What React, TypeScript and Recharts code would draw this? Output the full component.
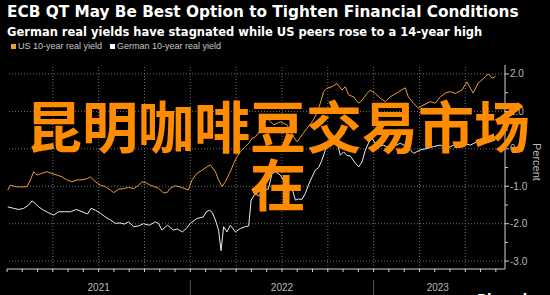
import { LineChart, Line, XAxis, YAxis, ReferenceLine } from "recharts";

// months since Jan 2021
const usMonth = [
  0.05, 0.22, 0.55, 0.88, 1.32, 1.53, 1.75, 1.97, 2.3, 2.62,
  2.95, 3.28, 3.61, 3.93, 4.26, 4.59, 4.91, 5.28, 5.46, 5.79,
  6.11, 6.44, 6.77, 6.98, 7.31, 7.64, 7.96, 8.29, 8.62, 8.84,
  9.12, 9.38, 9.91, 10.24, 10.5, 10.69, 11.02, 11.35, 11.87, 12.11,
  12.44, 12.77, 13.1, 13.31, 13.64, 13.85, 14.08, 14.29, 14.62, 14.84,
  15.06, 15.27, 15.6, 15.82, 16.04, 16.26, 16.59, 17.02, 17.45, 17.89,
  18.33, 18.76, 18.99, 19.31, 19.64, 19.97, 20.29, 20.51, 20.73, 20.95,
  21.28, 21.6, 21.93, 22.15, 22.36, 22.69, 23.02, 23.24, 23.57, 23.78,
  24.11, 24.44, 24.76, 25.09, 25.62, 26.07, 26.27, 26.6, 26.92, 27.25,
  27.71, 28.04, 28.36, 28.69, 29.02, 29.35, 29.78, 30.11, 30.33, 30.52,
  30.85, 31.09, 31.31, 31.51, 31.75, 31.97,
];
const usYield = [
  -1.1, -0.97, -1.01, -1.02, -1.01, -0.83, -0.61, -0.7, -0.65, -0.61,
  -0.66, -0.7, -0.75, -0.83, -0.88, -0.83, -0.83, -0.79, -0.75, -0.88,
  -0.97, -1.01, -1.1, -1.17, -1.08, -1.06, -1.03, -1.06, -0.97, -0.88,
  -0.91, -0.97, -1.05, -1.18, -1.16, -1.05, -0.99, -1.02, -1.1, -0.83,
  -0.65, -0.57, -0.48, -0.43, -0.61, -0.83, -1.01, -0.88, -0.61, -0.39,
  -0.21, -0.08, 0.06, 0.15, 0.28, 0.32, 0.5, 0.82, 0.64, 0.72,
  0.64, 0.32, 0.19, 0.37, 0.55, 0.72, 0.95, 1.22, 1.53, 1.62,
  1.66, 1.75, 1.57, 1.66, 1.44, 1.39, 1.22, 1.3, 1.48, 1.57,
  1.48, 1.35, 1.26, 1.39, 1.52, 1.63, 1.39, 1.22, 1.09, 1.17,
  1.26, 1.22, 1.39, 1.49, 1.53, 1.48, 1.57, 1.79, 1.62, 1.49,
  1.76, 1.84, 1.93, 2.0, 1.89, 1.93,
];
const deMonth = [
  0.05, 0.44, 0.77, 1.09, 1.42, 1.64, 1.86, 2.07, 2.4, 2.73,
  3.06, 3.38, 3.82, 4.15, 4.54, 4.91, 5.28, 5.5, 5.79, 6.11,
  6.44, 6.77, 7.09, 7.42, 7.68, 7.96, 8.29, 8.62, 8.93, 9.32,
  9.71, 9.91, 10.15, 10.5, 10.89, 11.15, 11.48, 11.74, 12.0, 12.44,
  12.85, 13.05, 13.25, 13.44, 13.64, 13.85, 14.01, 14.18, 14.4, 14.62,
  14.95, 15.27, 15.6, 15.82, 15.98, 16.26, 16.47, 16.8, 17.11, 17.35,
  17.57, 17.89, 18.22, 18.42, 18.66, 18.88, 19.08, 19.31, 19.53, 19.73,
  19.97, 20.18, 20.4, 20.62, 20.84, 21.05, 21.28, 21.6, 21.82, 22.04,
  22.26, 22.47, 22.8, 23.02, 23.24, 23.46, 23.67, 23.89, 24.11, 24.33,
  24.65, 24.98, 25.29, 25.75, 26.18, 26.62, 27.05, 27.49, 27.93, 28.36,
  28.8, 29.23, 29.56, 29.89, 30.33, 30.77, 31.2, 31.64, 31.96,
];
const deYield = [
  -1.55, -1.59, -1.62, -1.59, -1.5, -1.39, -1.46, -1.55, -1.64, -1.71,
  -1.77, -1.68, -1.68, -1.68, -1.62, -1.68, -1.74, -1.59, -1.64, -1.72,
  -1.82, -1.9, -1.99, -1.98, -2.01, -1.95, -2.08, -2.06, -2.0, -2.04,
  -1.95, -1.99, -2.17, -2.04, -2.17, -2.14, -2.22, -2.13, -1.99, -1.86,
  -1.82, -1.68, -1.64, -1.7, -1.9, -2.17, -2.72, -2.08, -2.22, -2.04,
  -2.22, -2.13, -2.08, -2.06, -1.37, -1.19, -1.26, -1.1, -1.07, -0.66,
  -0.61, -0.7, -0.92, -1.01, -1.06, -1.37, -1.34, -1.35, -1.19, -0.97,
  -0.75, -0.57, -0.5, -0.3, -0.03, 0.07, 0.16, 0.19, -0.17, -0.08,
  -0.18, -0.19, -0.38, -0.48, -0.35, -0.03, 0.16, 0.28, 0.15, 0.06,
  0.1, 0.02, 0.06, 0.15, 0.06, -0.12, -0.03, 0.01, 0.06, 0.1,
  0.01, 0.1, 0.06, 0.15, 0.1, 0.19, 0.15, 0.19, 0.24,
];

const yTicks = [-3, -2.5, -2, -1.5, -1, -0.5, 0, 0.5, 1, 1.5, 2];
const yGrid = [-3, -2, -1, 0, 1, 2];
const quarterGrid = [3, 6, 9, 12, 15, 18, 21, 24, 27, 30];
const yearLabels = ["2021", "2022", "2023"];
const yearLabelAt = [6, 18, 28.2];
const yearBreaks = [12, 24];
const monthTicks = [...Array.from({ length: 33 }, (_, i) => i), 28.2];

const usData = usMonth.map((t, i) => ({ t, v: usYield[i] }));
const deData = deMonth.map((t, i) => ({ t, v: deYield[i] }));

const ORANGE = "#ef9a3a";
const AXIS = "#d2d2d2";
const LABEL = "#b8b8b8";
const GRID = "#6c6c6c";
const SANS = "'Liberation Sans', Arial, sans-serif";

function MonthTick({ x, y, payload }: any) {
  const v = payload.value;
  const li = yearLabelAt.indexOf(v);
  return (
    <g>
      {Number.isInteger(v) && <line x1={x} x2={x} y1={y} y2={y + 3} stroke={AXIS} />}
      {yearBreaks.includes(v) && <line x1={x} x2={x} y1={y + 11} y2={y + 26} stroke="#555" />}
      {li >= 0 && (
        <text x={x} y={y + 22} textAnchor="middle" fill={LABEL} fontSize={10} fontFamily={SANS}>
          {yearLabels[li]}
        </text>
      )}
    </g>
  );
}

function ValueTick({ x, y, payload }: any) {
  const v = payload.value;
  const major = Number.isInteger(v);
  return (
    <g>
      <line x1={x} x2={x + (major ? 4 : 3)} y1={y} y2={y} stroke={AXIS} />
      {major && (
        <text x={x + 5} y={y} dy="0.35em" fill={LABEL} fontSize={10} fontFamily={SANS}>
          {v.toFixed(1)}
        </text>
      )}
    </g>
  );
}

export default function App() {
  return (
    <div style={{ position: "fixed", left: 0, top: 0, width: 550, height: 295, background: "#000", overflow: "hidden" }}>
      <div style={{ position: "absolute", left: 7, top: 3, color: "#fff", fontFamily: "'DejaVu Sans', sans-serif", fontWeight: 700, fontSize: 15.3, whiteSpace: "nowrap" }}>
        ECB QT May Be Best Option to Tighten Financial Conditions
      </div>
      <div style={{ position: "absolute", left: 7, top: 25, color: "#fff", fontFamily: "'DejaVu Sans', sans-serif", fontWeight: 700, fontSize: 11.5, whiteSpace: "nowrap" }}>
        German real yields have stagnated while US peers rose to a 14-year high
      </div>
      <div style={{ position: "absolute", left: 11, top: 41, display: "flex", alignItems: "center", gap: 8, color: "#c8c8c8", fontFamily: SANS, fontSize: 9, whiteSpace: "nowrap" }}>
        <span style={{ display: "flex", alignItems: "center", gap: 2 }}>
          <span style={{ width: 5, height: 5, background: ORANGE }} />US 10-year real yield
        </span>
        <span style={{ display: "flex", alignItems: "center", gap: 2 }}>
          <span style={{ width: 5, height: 5, background: "#fff" }} />German 10-year real yield
        </span>
      </div>

      <div style={{ position: "absolute", left: 0, top: 0 }}>
        <LineChart width={550} height={295} margin={{ top: 65, right: 0, bottom: 0, left: 7 }}>
          {yGrid.map((g) => (
            <ReferenceLine key={"h" + g} y={g} stroke={GRID} strokeDasharray="1 2" />
          ))}
          {quarterGrid.map((g) => (
            <ReferenceLine key={"v" + g} x={g} stroke={GRID} strokeDasharray="1 2" />
          ))}
          <XAxis dataKey="t" type="number" domain={[0, 32.6]} ticks={monthTicks} interval={0}
            allowDataOverflow height={26} tickSize={0} tickMargin={0} tickLine={false}
            axisLine={{ stroke: AXIS }} tick={(p: any) => <MonthTick {...p} />} />
          <YAxis orientation="right" type="number" domain={[-3.21, 2.24]} ticks={yTicks} interval={0}
            allowDataOverflow width={45} tickSize={0} tickMargin={0} tickLine={false}
            axisLine={{ stroke: AXIS }} tick={(p: any) => <ValueTick {...p} />} />
          <Line data={deData} dataKey="v" type="linear" stroke="#ececec" strokeWidth={1} dot={false} isAnimationActive={false} />
          <Line data={usData} dataKey="v" type="linear" stroke={ORANGE} strokeWidth={1} dot={false} isAnimationActive={false} />
        </LineChart>
      </div>

      <div style={{ position: "absolute", left: 533, top: 143, transform: "rotate(90deg)", transformOrigin: "0 0", color: LABEL, fontFamily: SANS, fontSize: 11, whiteSpace: "nowrap", marginLeft: 10 }}>
        Percent
      </div>
      <div style={{ position: "absolute", left: 477, top: 291, color: "#fff", fontFamily: "'DejaVu Sans', sans-serif", fontWeight: 700, fontSize: 13, whiteSpace: "nowrap" }}>
        Bloomberg
      </div>

      <div style={{ position: "absolute", left: 21, top: 95, width: 514, textAlign: "center", color: "#ff8c00", fontFamily: "'Noto Sans CJK SC', sans-serif", fontWeight: 700, fontSize: 56, lineHeight: "58px" }}>
        昆明咖啡豆交易市场在
      </div>
    </div>
  );
}
